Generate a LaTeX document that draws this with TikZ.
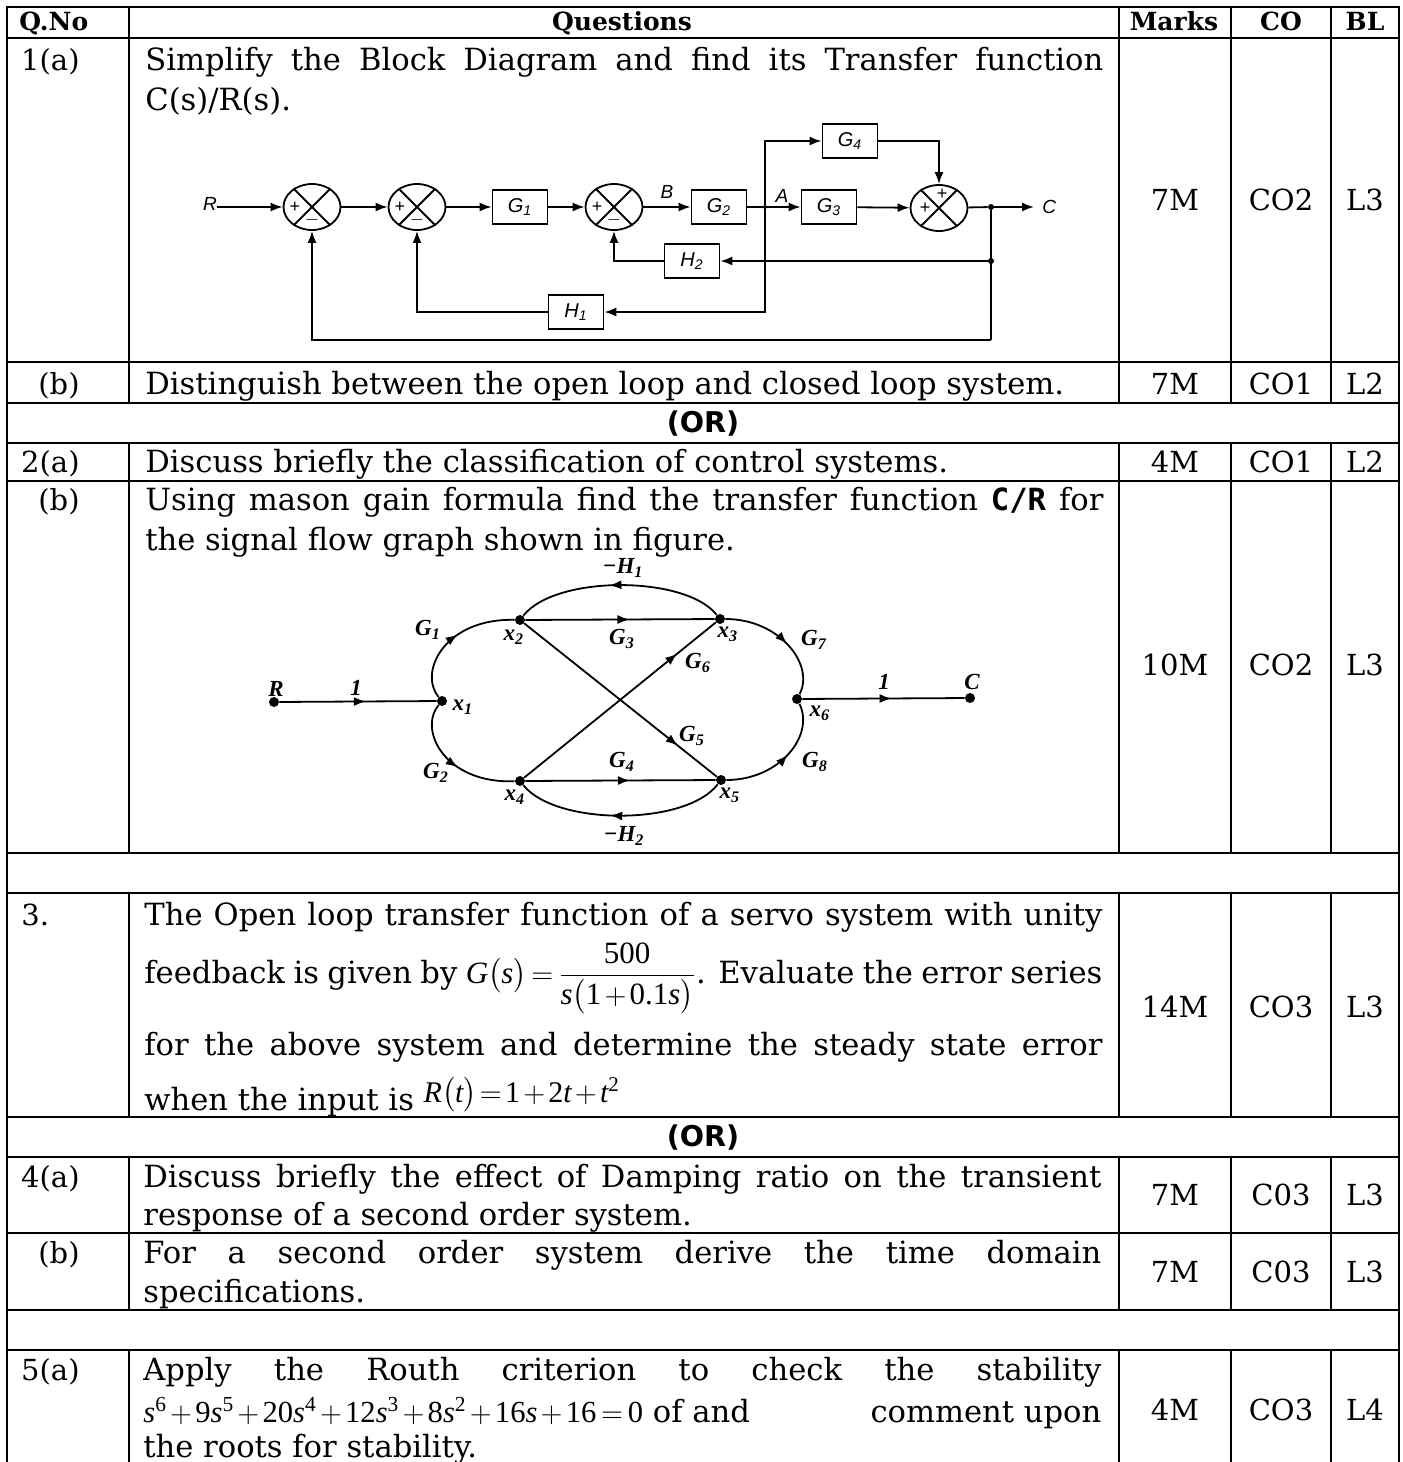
\documentclass[tikz,border=0pt]{standalone}
\usepackage{amsmath}
\usepackage{fontspec}
\setmainfont{DejaVu Serif}
\newfontfamily\orfont{DejaVu Sans}
\newfontfamily\bdfont{Liberation Sans}
\newfontfamily\tmsfont{Liberation Serif}
\newfontfamily\crfont{DejaVu Sans Mono}
\usetikzlibrary{arrows.meta,shapes.geometric,decorations.markings}
\newcommand\bodysz{\fontsize{15.3pt}{17pt}\selectfont}
\newcommand\marksz{\fontsize{14.5pt}{17pt}\selectfont}
\newcommand\mi[1]{\text{\tmsfont\itshape #1}}
\newcommand\mr[1]{\text{\tmsfont #1}}
\newcommand\bg[2]{{\bdfont\itshape #1\textsubscript{#2}}}
\newcommand\sg[2]{{\tmsfont\bfseries\itshape #1\textsubscript{#2}}}
\newcommand\jl[1]{\makebox[479pt][s]{#1}}
\tikzset{
 tbl/.style={line width=0.9pt, line cap=rect},
 txt/.style={anchor=base west, inner sep=0pt, font=\bodysz},
 ctr/.style={anchor=base, inner sep=0pt, font=\marksz},
 lbl/.style={anchor=base east, inner sep=0pt, font=\marksz},
 hdr/.style={anchor=base, inner sep=0pt, font=\fontsize{12.5pt}{14pt}\selectfont\bfseries},
 ortxt/.style={anchor=base, inner sep=0pt, font=\fontsize{14.3pt}{15pt}\selectfont\orfont\bfseries},
 blk/.style={draw, line width=0.9pt, minimum width=27.5pt, minimum height=17pt, inner sep=0pt, font=\fontsize{10pt}{11pt}\selectfont},
 sumj/.style={draw, ellipse, line width=0.9pt, minimum width=28.5pt, minimum height=23pt, inner sep=0pt},
 bl/.style={inner sep=0pt, font=\fontsize{9.5pt}{10pt}\selectfont\bdfont\itshape},
 sgn/.style={inner sep=0pt, font=\fontsize{9pt}{9pt}\selectfont\bdfont},
 sig/.style={inner sep=0pt, font=\fontsize{11.5pt}{12pt}\selectfont\tmsfont\bfseries\itshape},
 wire/.style={line width=0.9pt},
 arr/.style={wire, -{Latex[length=6pt,width=4.5pt]}},
 bdot/.style={circle, fill, inner sep=0pt, minimum size=3pt},
 sdot/.style={circle, fill, inner sep=0pt, minimum size=5pt},
 midarr/.style={postaction={decorate}, decoration={markings, mark=at position #1 with {\arrow{Latex[length=6pt,width=4.5pt]}}}},
}
\begin{document}
\begin{tikzpicture}[x=0.5pt,y=-0.5pt]
\useasboundingbox (0,0) rectangle (1403,1462);
% ---------------- table grid
\foreach \yy in {7,38,362,403,443,481,853,893,1117,1157,1233,1310,1350}
  \draw[tbl] (7,\yy) -- (1399,\yy);
\draw[tbl] (7,7) -- (7,1475) (1399,7) -- (1399,1475);
\foreach \xx in {129,1119,1231,1331}
  \draw[tbl] (\xx,7)--(\xx,403) (\xx,443)--(\xx,853) (\xx,893)--(\xx,1117) (\xx,1157)--(\xx,1310) (\xx,1350)--(\xx,1475);
% ---------------- header
\node[hdr, anchor=base west] (hq) at (19,30) {Q.No};
\node[hdr] (hqs) at (622,30) {Questions};
\node[hdr] (hm) at (1174,30) {Marks};
\node[hdr] (hc) at (1281,30) {CO};
\node[hdr] (hb) at (1365,30) {BL};
% ---------------- 1(a)
\node[lbl] (q1a) at (80,70) {1(a)};
\node[txt] (t1a1) at (145,70) {\jl{Simplify the Block Diagram and find its Transfer function}};
\node[txt] (t1a2) at (145,110) {C(s)/R(s).};
\node[ctr] (m1a) at (1175,210) {7M};
\node[ctr] (c1a) at (1281,210) {CO2};
\node[ctr] (b1a) at (1365,210) {L3};
% block diagram
\node[bl] (R) at (210,204) {R};
\node[sumj] (j1) at (312,207) {};
\node[sumj] (j2) at (417,207) {};
\node[blk] (G1) at (520,207) {\bg{G}{1}};
\node[sumj] (j3) at (614,207) {};
\node[blk] (G2) at (719,207) {\bg{G}{2}};
\node[bdot, minimum size=2pt] (A) at (765,207) {};
\node[blk] (G3) at (829,207) {\bg{G}{3}};
\node[sumj] (j4) at (939,208) {};
\node[bdot] (O) at (991,207) {};
\node[bdot] (O2) at (991,261) {};
\coordinate (Ob) at (991,340);
\coordinate (Ce) at (1034,207);
\node[bl, anchor=west] (Cl) at (1042,207) {C};
\node[blk] (G4) at (850,141) {\bg{G}{4}};
\node[blk] (H2) at (692,261) {\bg{H}{2}};
\node[blk] (H1) at (576,312) {\bg{H}{1}};
\foreach \j in {j1,j2,j3,j4}
  \draw[wire] (\j.45) -- (\j.225) (\j.135) -- (\j.315);
\foreach \j in {j1,j2,j3} {
  \node[sgn] at ([xshift=-8.5pt]\j.center) {+};
  \node[sgn] at ([yshift=-6.5pt]\j.center) {$-$};
}
\node[sgn] at ([xshift=-7pt]j4.center) {+};
\node[sgn] at ([yshift=7pt,xshift=1.5pt]j4.center) {+};
\draw[arr] (R.east |- j1.west) -- (j1.west);
\draw[arr] (j1) -- (j2);
\draw[arr] (j2) -- (G1);
\draw[arr] (G1) -- (j3);
\draw[arr] (j3) -- node[bl, above=4pt, pos=0.5] (Bl) {B} (G2);
\draw[wire] (G2) -- (A);
\draw[arr] (A) -- (G3);
\node[bl] (Al) at (782,196) {A};
\draw[arr] (G3) -- (j4);
\draw[wire] (j4) -- (O);
\draw[arr] (O) -- (Ce);
\draw[arr] (A) |- (G4.west);
\draw[arr] (G4.east) -| (j4.north);
\draw[wire] (O) -- (Ob);
\draw[arr] (O2) -- (H2.east);
\draw[arr] (H2.west) -| (j3.south);
\draw[arr] (A) |- (H1.east);
\draw[arr] (H1.west) -| (j2.south);
\draw[arr] (Ob) -| (j1.south);
% ---------------- 1(b)
\node[lbl] (q1b) at (80,394) {(b)};
\node[txt] (t1b) at (145,394) {Distinguish between the open loop and closed loop system.};
\node[ctr] (m1b) at (1175,394) {7M};
\node[ctr] (c1b) at (1281,394) {CO1};
\node[ctr] (b1b) at (1365,394) {L2};
% ---------------- OR
\node[ortxt] (or1) at (703,432) {(OR)};
% ---------------- 2(a)
\node[lbl] (q2a) at (80,472) {2(a)};
\node[txt] (t2a) at (145,472) {Discuss briefly the classification of control systems.};
\node[ctr] (m2a) at (1175,472) {4M};
\node[ctr] (c2a) at (1281,472) {CO1};
\node[ctr] (b2a) at (1365,472) {L2};
% ---------------- 2(b)
\node[lbl] (q2b) at (80,510) {(b)};
\node[txt] (t2b1) at (145,510) {\jl{Using mason gain formula find the transfer function {\crfont\bfseries C/R} for}};
\node[txt] (t2b2) at (145,550) {the signal flow graph shown in figure.};
\node[ctr] (m2b) at (1175,675) {10M};
\node[ctr] (c2b) at (1281,675) {CO2};
\node[ctr] (b2b) at (1365,675) {L3};
% signal flow graph
\node[sdot] (sR) at (274,702) {};
\node[sdot] (x1) at (442,701) {};
\node[sdot] (x2) at (520,620) {};
\node[sdot] (x3) at (720,619) {};
\node[sdot] (x4) at (520,781) {};
\node[sdot] (x5) at (721,780) {};
\node[sdot] (x6) at (797,699) {};
\node[sdot] (sC) at (970,698) {};
\node[sig] at (276,689) {R};
\node[sig] at (972,682) {C};
\node[sig] at (356,688) {1};
\node[sig] at (884,682) {1};
\node[sig] at (463,707) {\sg{x}{1}};
\node[sig] at (514,637) {\sg{x}{2}};
\node[sig] at (728,634) {\sg{x}{3}};
\node[sig] at (515,797) {\sg{x}{4}};
\node[sig] at (730,795) {\sg{x}{5}};
\node[sig] at (820,713) {\sg{x}{6}};
\node[sig] at (428,630) {\sg{G}{1}};
\node[sig] at (436,773) {\sg{G}{2}};
\node[sig] at (622,639) {\sg{G}{3}};
\node[sig] at (622,762) {\sg{G}{4}};
\node[sig] at (692,736) {\sg{G}{5}};
\node[sig] at (698,663) {\sg{G}{6}};
\node[sig] at (814,640) {\sg{G}{7}};
\node[sig] at (815,762) {\sg{G}{8}};
\node[sig] at (623,568) {−\sg{H}{1}};
\node[sig] at (624,836) {−\sg{H}{2}};
\draw[wire, midarr=0.55] (sR) -- (x1);
\draw[wire, midarr=0.55] (x1) .. controls (418,672) and (445,618) .. (x2);
\draw[wire, midarr=0.55] (x1) .. controls (418,730) and (445,784) .. (x4);
\draw[wire, midarr=0.55] (x2) -- (x3);
\draw[wire, midarr=0.55] (x3) .. controls (685,575) and (555,575) .. (x2);
\draw[wire, midarr=0.55] (x4) -- (x5);
\draw[wire, midarr=0.55] (x5) .. controls (686,826) and (556,826) .. (x4);
\draw[wire, midarr=0.8] (x2) -- (x5);
\draw[wire, midarr=0.8] (x4) -- (x3);
\draw[wire, midarr=0.55] (x3) .. controls (780,619) and (815,665) .. (x6);
\draw[wire, midarr=0.55] (x5) .. controls (780,780) and (815,735) .. (x6);
\draw[wire, midarr=0.55] (x6) -- (sC);
% ---------------- 3
\node[lbl, anchor=base west] (q3) at (21,925) {3.};
\node[txt] (t31) at (144,925) {\jl{The Open loop transfer function of a servo system with unity}};
\node[txt] (t32) at (144,983) {\jl{feedback is given by \mbox{\fontsize{15.5pt}{17pt}\selectfont$\mi{G}\bigl(\mi{s}\bigr)\mkern-2mu=\mkern-2mu\dfrac{\mr{500}}{\mi{s}\bigl(\mr{1}\mkern-2mu+\mkern-2mu\mr{0.1}\mi{s}\bigr)}$}. Evaluate the error series}};
\node[txt] (t33) at (144,1055) {\jl{for the above system and determine the steady state error}};
\node[txt] (t34) at (144,1110) {when the input is \raisebox{4pt}{\mbox{\fontsize{15pt}{17pt}\selectfont$\mi{R}\bigl(\mi{t}\bigr)\mkern-3mu=\mkern-3mu\mr{1}\mkern-2mu+\mkern-2mu\mr{2}\mi{t}\mkern-2mu+\mkern-2mu\mi{t}^{\mr{2}}$}}};
\node[ctr] (m3) at (1175,1017) {14M};
\node[ctr] (c3) at (1281,1017) {CO3};
\node[ctr] (b3) at (1365,1017) {L3};
% ---------------- OR
\node[ortxt] (or2) at (703,1146) {(OR)};
% ---------------- 4(a)
\node[lbl] (q4a) at (80,1187) {4(a)};
\node[txt] (t4a1) at (143,1187) {\jl{Discuss briefly the effect of Damping ratio on the transient}};
\node[txt] (t4a2) at (143,1225) {response of a second order system.};
\node[ctr] (m4a) at (1175,1205) {7M};
\node[ctr] (c4a) at (1281,1205) {C03};
\node[ctr] (b4a) at (1365,1205) {L3};
% ---------------- 4(b)
\node[lbl] (q4b) at (80,1263) {(b)};
\node[txt] (t4b1) at (143,1263) {\jl{For a second order system derive the time domain}};
\node[txt] (t4b2) at (143,1302) {specifications.};
\node[ctr] (m4b) at (1175,1282) {7M};
\node[ctr] (c4b) at (1281,1282) {C03};
\node[ctr] (b4b) at (1365,1282) {L3};
% ---------------- 5(a)
\node[lbl] (q5a) at (80,1380) {5(a)};
\node[txt] (t5a1) at (143,1380) {\jl{Apply the Routh criterion to check the stability}};
\node[txt] (t5a2) at (143,1422) {\makebox[479pt][s]{\mbox{\medmuskip=2mu\thickmuskip=3mu$\mi{s}^{\mr{6}}+\mr{9}\mi{s}^{\mr{5}}+\mr{20}\mi{s}^{\mr{4}}+\mr{12}\mi{s}^{\mr{3}}+\mr{8}\mi{s}^{\mr{2}}+\mr{16}\mi{s}+\mr{16}=\mr{0}$} of and\hfill comment upon}};
\node[txt] (t5a3) at (143,1457) {the roots for stability.};
\node[ctr] (m5a) at (1175,1420) {4M};
\node[ctr] (c5a) at (1281,1420) {CO3};
\node[ctr] (b5a) at (1365,1420) {L4};
\end{tikzpicture}
\end{document}
